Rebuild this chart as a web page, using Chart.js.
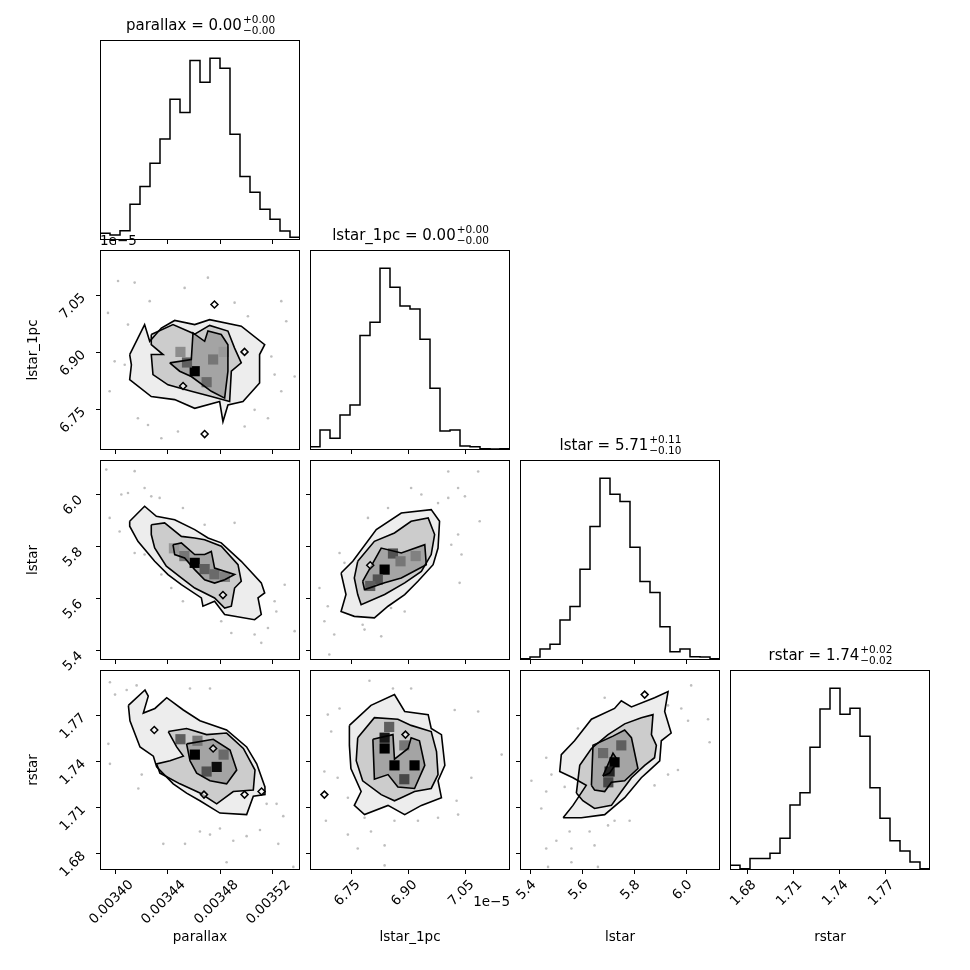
<!DOCTYPE html>
<html><head><meta charset="utf-8">
<script src="https://cdn.jsdelivr.net/npm/chart.js@4.4.1/dist/chart.umd.min.js"></script>
<style>
html,body{margin:0;padding:0;background:#fff;width:970px;height:970px;overflow:hidden}
canvas{position:absolute}
</style></head><body>
<script>
// parameter names
const names = ['parallax','lstar_1pc','lstar','rstar'];
// axis ranges (parallax and lstar_1pc in units of 1e-5)
const rangeParallax = [338.85, 354.14];
const rangeLstar1pc = [6.641, 7.169];
const rangeLstar = [5.36, 6.13];
const rangeRstar = [1.669, 1.799];
// tick values
const ticksParallax = [340, 344, 348, 352];
const ticksLstar1pc = [6.75, 6.90, 7.05];
const ticksLstar = [5.4, 5.6, 5.8, 6.0];
const ticksRstar = [1.68, 1.71, 1.74, 1.77];
// titles of diagonal panels
const titleValues = ['0.00','0.00','5.71','1.74'];
const titlePlus = ['+0.00','+0.00','+0.11','+0.02'];
const titleMinus = ['\u22120.00','\u22120.00','\u22120.10','\u22120.02'];
// 1D histograms (20 bins)
const histParallax = [20,15,28,107,160,230,303,422,382,538,473,545,515,317,190,143,92,62,27,8];
const histLstar1pc = [10,60,35,105,135,343,383,545,488,432,423,332,185,57,60,12,10,4,3,4];
const histLstar = [4,9,33,47,120,160,272,400,545,497,475,338,235,202,100,25,33,10,9,4];
const histRstar = [14,4,34,34,50,95,194,230,366,480,542,464,482,399,245,154,87,57,24,4];

// ---- 2D panels: contours (outer, middle, inner), islands, dense cells [x,y,density], samples
// parallax vs lstar_1pc
const A_outer = [[341.12,6.893],[342.26,6.972],[342.65,6.928],[343.54,6.963],[344.56,6.983],[346.09,6.972],[347.23,6.985],[349.65,6.968],[351.44,6.919],[351.05,6.893],[351.05,6.818],[349.78,6.769],[348.63,6.760],[348.25,6.716],[348.0,6.769],[346.09,6.751],[344.56,6.774],[342.77,6.782],[341.12,6.827],[341.25,6.866]];
const A_middle = [[342.77,6.946],[344.43,6.972],[346.09,6.947],[347.23,6.970],[348.63,6.955],[349.14,6.910],[349.65,6.871],[348.89,6.849],[348.76,6.769],[347.36,6.782],[345.83,6.796],[344.05,6.813],[342.9,6.840],[342.77,6.893],[343.67,6.893],[342.77,6.919]];
const A_inner = [[344.18,6.871],[345.83,6.880],[345.96,6.950],[346.85,6.928],[347.1,6.955],[348.12,6.946],[348.63,6.919],[348.63,6.849],[348.38,6.778],[347.36,6.796],[345.83,6.835],[344.94,6.849]];
const A_islands = [[347.6,7.025],[346.85,6.683],[349.9,6.90],[345.2,6.81]];
const A_cells = [[346.09,6.849,1.0],[345.5,6.872,0.6],[347.5,6.88,0.5],[347.0,6.82,0.55],[345.0,6.90,0.4],[348.3,6.90,0.35]];
const A_pts = [[339.46,7.003],[340.23,7.087],[341.5,7.083],[340.99,6.972],[339.97,6.875],[340.74,6.866],[339.59,6.796],[341.75,6.725],[342.52,6.707],[343.54,6.672],[344.81,6.690],[349.91,6.703],[351.69,6.725],[352.71,6.796],[353.73,6.835],[353.09,6.981],[352.71,7.034],[349.14,7.030],[345.32,7.069],[347.1,7.096],[342.65,7.034],[350.16,6.994],[351.95,6.888],[350.67,6.747],[352.2,6.840]];
// parallax vs lstar
const B_outer = [[341.12,5.894],[342.26,5.952],[343.16,5.913],[344.56,5.900],[346.09,5.862],[347.11,5.830],[348.12,5.811],[349.65,5.740],[351.18,5.657],[351.44,5.618],[350.93,5.599],[351.18,5.535],[350.67,5.515],[348.38,5.535],[347.61,5.586],[346.72,5.567],[346.6,5.599],[345.07,5.650],[344.05,5.689],[343.03,5.740],[341.75,5.817],[341.12,5.875]];
const B_middle = [[342.77,5.881],[343.79,5.888],[345.07,5.836],[346.09,5.830],[346.85,5.823],[348.12,5.798],[349.4,5.727],[349.65,5.663],[349.14,5.637],[348.89,5.567],[348.38,5.560],[347.61,5.599],[346.09,5.637],[345.07,5.676],[343.92,5.721],[343.03,5.791],[342.77,5.843]];
const B_inner = [[344.43,5.804],[345.07,5.811],[346.09,5.766],[346.85,5.766],[347.36,5.778],[347.61,5.714],[349.14,5.689],[348.38,5.669],[347.61,5.656],[346.85,5.669],[346.09,5.708],[345.32,5.753],[344.56,5.766]];
const B_islands = [[348.25,5.61]];
const B_cells = [[346.09,5.734,1.0],[346.85,5.71,0.6],[347.6,5.69,0.55],[345.3,5.76,0.5],[348.4,5.68,0.45],[344.5,5.79,0.35]];
const B_pts = [[339.33,6.093],[341.5,6.087],[339.59,5.907],[340.48,5.997],[340.99,6.003],[342.26,6.022],[342.77,5.990],[343.41,5.984],[345.19,5.945],[340.35,5.855],[341.5,5.772],[342.26,5.766],[343.54,5.689],[344.30,5.637],[345.19,5.586],[346.85,5.881],[349.14,5.888],[352.2,5.586],[352.97,5.650],[352.33,5.547],[351.69,5.483],[350.67,5.458],[353.73,5.471],[348.89,5.464],[348.12,5.509],[351.18,5.426]];
// parallax vs rstar
const C_outer = [[341.02,1.776],[342.29,1.786],[342.54,1.782],[342.16,1.771],[343.05,1.774],[343.95,1.781],[345.22,1.773],[346.49,1.766],[348.53,1.760],[350.06,1.749],[350.83,1.738],[351.46,1.723],[351.46,1.718],[350.57,1.717],[350.06,1.705],[348.02,1.706],[346.49,1.714],[345.47,1.719],[344.45,1.725],[343.18,1.736],[342.93,1.743],[341.91,1.749],[341.14,1.766]];
const C_middle = [[344.07,1.759],[345.47,1.761],[347.0,1.757],[348.53,1.758],[349.81,1.748],[350.70,1.734],[350.57,1.721],[349.04,1.720],[347.77,1.712],[346.49,1.719],[344.96,1.725],[343.43,1.732],[343.18,1.738],[344.2,1.740],[345.22,1.743],[344.71,1.749]];
const C_inner = [[345.47,1.751],[347.51,1.754],[348.79,1.747],[349.3,1.734],[348.53,1.725],[347.26,1.727],[346.24,1.732],[345.73,1.740]];
const C_islands = [[343.0,1.760],[346.8,1.718],[349.9,1.718],[351.2,1.720],[347.5,1.748]];
const C_cells = [[346.1,1.744,1.0],[347.77,1.736,0.95],[347.0,1.733,0.65],[348.3,1.744,0.55],[345.0,1.754,0.6],[346.3,1.753,0.5]];
const C_pts = [[339.61,1.791],[340.0,1.783],[340.89,1.786],[341.65,1.789],[339.49,1.751],[339.61,1.738],[341.78,1.722],[342.04,1.731],[343.69,1.686],[345.35,1.686],[346.49,1.694],[347.26,1.692],[348.02,1.696],[349.04,1.688],[350.06,1.691],[351.08,1.695],[351.59,1.712],[352.35,1.712],[352.86,1.704],[352.48,1.686],[353.63,1.671],[348.53,1.674],[345.73,1.787],[347.26,1.787]];
// lstar_1pc vs lstar
const D_outer = [[6.723,5.695],[6.754,5.740],[6.816,5.862],[6.882,5.926],[6.961,5.939],[6.983,5.894],[6.979,5.791],[6.966,5.727],[6.926,5.663],[6.891,5.612],[6.847,5.567],[6.811,5.522],[6.758,5.528],[6.723,5.547],[6.736,5.612]];
const D_middle = [[6.767,5.740],[6.811,5.817],[6.864,5.849],[6.908,5.894],[6.953,5.907],[6.970,5.843],[6.961,5.766],[6.935,5.701],[6.891,5.657],[6.838,5.612],[6.776,5.573],[6.767,5.612],[6.758,5.676]];
const D_inner = [[6.780,5.663],[6.829,5.791],[6.882,5.772],[6.944,5.804],[6.948,5.727],[6.882,5.676],[6.838,5.657],[6.785,5.631]];
const D_islands = [[6.80,5.725]];
const D_cells = [[6.838,5.708,1.0],[6.82,5.67,0.65],[6.86,5.77,0.65],[6.88,5.74,0.5],[6.92,5.76,0.45],[6.80,5.645,0.6]];
const D_pts = [[6.666,5.637],[6.688,5.567],[6.679,5.509],[6.705,5.458],[6.719,5.772],[6.732,5.734],[6.692,5.381],[6.780,5.496],[6.785,5.477],[6.829,5.451],[6.855,5.560],[6.891,5.547],[6.908,6.022],[6.935,5.997],[6.979,5.964],[7.006,5.984],[7.032,6.022],[7.050,5.990],[7.006,6.086],[7.085,6.086],[7.089,5.894],[7.032,5.843],[7.014,5.804],[7.036,5.657],[7.041,5.766],[6.847,5.945],[6.794,5.907]];
// lstar_1pc vs rstar
const E_outer = [[6.745,1.763],[6.802,1.776],[6.864,1.783],[6.891,1.772],[6.953,1.770],[6.961,1.761],[6.988,1.757],[6.997,1.737],[6.979,1.727],[6.988,1.716],[6.935,1.711],[6.891,1.705],[6.847,1.711],[6.785,1.705],[6.758,1.711],[6.776,1.720],[6.749,1.735],[6.745,1.750]];
const E_middle = [[6.767,1.755],[6.811,1.768],[6.873,1.767],[6.908,1.763],[6.961,1.759],[6.975,1.746],[6.979,1.731],[6.961,1.722],[6.917,1.720],[6.882,1.716],[6.864,1.714],[6.829,1.718],[6.780,1.727],[6.763,1.740]];
const E_inner = [[6.807,1.754],[6.860,1.757],[6.864,1.741],[6.900,1.748],[6.908,1.755],[6.930,1.753],[6.944,1.737],[6.917,1.722],[6.873,1.723],[6.847,1.731],[6.811,1.728]];
const E_islands = [[6.679,1.718],[6.893,1.757]];
const E_cells = [[6.838,1.748,1.0],[6.864,1.737,1.0],[6.917,1.737,1.0],[6.838,1.755,0.9],[6.85,1.762,0.6],[6.89,1.728,0.7],[6.89,1.75,0.5]];
const E_pts = [[6.688,1.770],[6.697,1.759],[6.719,1.774],[6.679,1.733],[6.714,1.729],[6.741,1.716],[6.683,1.701],[6.741,1.692],[6.767,1.683],[6.802,1.694],[6.838,1.685],[6.864,1.701],[6.926,1.701],[6.979,1.703],[7.032,1.705],[7.028,1.714],[7.067,1.729],[7.085,1.772],[7.023,1.773],[6.908,1.787],[6.860,1.787],[6.798,1.792],[7.147,1.744],[6.838,1.672],[6.785,1.703]];
// lstar vs rstar
const F_outer = [[5.526,1.703],[5.564,1.711],[5.615,1.724],[5.564,1.729],[5.513,1.733],[5.519,1.744],[5.570,1.753],[5.635,1.767],[5.724,1.774],[5.75,1.779],[5.789,1.775],[5.878,1.781],[5.93,1.785],[5.917,1.772],[5.942,1.758],[5.904,1.753],[5.898,1.740],[5.853,1.733],[5.827,1.729],[5.763,1.716],[5.686,1.705],[5.596,1.703]];
const F_middle = [[5.577,1.719],[5.590,1.737],[5.635,1.748],[5.699,1.757],[5.763,1.764],[5.827,1.768],[5.872,1.770],[5.866,1.757],[5.885,1.750],[5.878,1.742],[5.840,1.737],[5.789,1.729],[5.75,1.720],[5.712,1.711],[5.647,1.709],[5.602,1.714]];
const F_inner = [[5.635,1.724],[5.641,1.750],[5.718,1.756],[5.763,1.760],[5.789,1.755],[5.814,1.735],[5.763,1.727],[5.712,1.726],[5.686,1.720],[5.647,1.721]];
const F_core = [[5.679,1.730],[5.718,1.745],[5.737,1.740],[5.705,1.732]];
const F_islands = [[5.84,1.783]];
const F_cells = [[5.724,1.739,1.0],[5.705,1.733,0.85],[5.75,1.750,0.6],[5.70,1.726,0.7],[5.68,1.745,0.55]];
const F_pts = [[5.404,1.727],[5.461,1.742],[5.481,1.731],[5.461,1.720],[5.532,1.723],[5.442,1.709],[5.461,1.683],[5.500,1.688],[5.551,1.694],[5.558,1.683],[5.628,1.694],[5.647,1.685],[5.699,1.698],[5.724,1.701],[5.782,1.701],[5.558,1.674],[5.468,1.671],[5.660,1.671],[5.930,1.776],[5.981,1.774],[6.007,1.766],[6.019,1.789],[6.084,1.767],[6.090,1.752],[5.968,1.734],[5.930,1.731],[5.878,1.724],[5.583,1.761],[5.686,1.781]];

// ---------------- build -----------------
const ranges = [rangeParallax, rangeLstar1pc, rangeLstar, rangeRstar];
const ticks = [ticksParallax, ticksLstar1pc, ticksLstar, ticksRstar];
const hists = [histParallax, histLstar1pc, histLstar, histRstar];
const fmt = [v => (v*1e-5).toFixed(5), v => v.toFixed(2), v => v.toFixed(1), v => v.toFixed(2)];
const PANEL = 200, GAP = 10, LEFT0 = 100, TOP0 = 40;
const PADL = 100, PADT = 40, PADR = 10, PADB = 100;
const FONT = '"DejaVu Sans", sans-serif';

const pairs = {
  '0,1': [A_outer, A_middle, A_inner, null, A_islands, A_cells, A_pts],
  '0,2': [B_outer, B_middle, B_inner, null, B_islands, B_cells, B_pts],
  '0,3': [C_outer, C_middle, C_inner, null, C_islands, C_cells, C_pts],
  '1,2': [D_outer, D_middle, D_inner, null, D_islands, D_cells, D_pts],
  '1,3': [E_outer, E_middle, E_inner, null, E_islands, E_cells, E_pts],
  '2,3': [F_outer, F_middle, F_inner, F_core, F_islands, F_cells, F_pts]
};

const toXY = arr => arr.map(p => ({x: p[0], y: p[1]}));
const closed = arr => toXY(arr.concat([arr[0]]));

function decor(col, row) {
  return {
    id: 'decor',
    afterDraw(chart) {
      const ctx = chart.ctx, a = chart.chartArea, sx = chart.scales.x, sy = chart.scales.y;
      ctx.save();
      ctx.strokeStyle = '#000'; ctx.lineWidth = 1;
      ctx.strokeRect(a.left + 0.5, a.top + 0.5, a.right - a.left - 1, a.bottom - a.top - 1);
      ctx.fillStyle = '#000';
      ticks[col].forEach(t => {
        const px = Math.round(sx.getPixelForValue(t)) + 0.5;
        ctx.beginPath(); ctx.moveTo(px, a.bottom); ctx.lineTo(px, a.bottom + 4); ctx.stroke();
        if (row === 3) {
          const s = fmt[col](t);
          ctx.font = '13.5px ' + FONT;
          const w = ctx.measureText(s).width;
          ctx.save();
          ctx.translate(px - 4, a.bottom + 8 + (w + 13) / 2.83);
          ctx.rotate(-Math.PI / 4);
          ctx.textAlign = 'center'; ctx.textBaseline = 'middle';
          ctx.fillText(s, 0, 0);
          ctx.restore();
        }
      });
      if (row !== col) {
        ticks[row].forEach(t => {
          const py = Math.round(sy.getPixelForValue(t)) + 0.5;
          ctx.beginPath(); ctx.moveTo(a.left - 4, py); ctx.lineTo(a.left, py); ctx.stroke();
          if (col === 0) {
            const s = fmt[row](t);
            ctx.font = '13.5px ' + FONT;
            ctx.save();
            ctx.translate(a.left - 27, py + 11);
            ctx.rotate(-Math.PI / 4);
            ctx.textAlign = 'center'; ctx.textBaseline = 'middle';
            ctx.fillText(s, 0, 0);
            ctx.restore();
          }
        });
      }
      ctx.font = '13.5px ' + FONT;
      ctx.textAlign = 'center'; ctx.textBaseline = 'middle';
      if (row === 3) ctx.fillText(names[col], (a.left + a.right) / 2, a.bottom + 67);
      if (col === 0 && row > 0) {
        ctx.save(); ctx.translate(a.left - 67, (a.top + a.bottom) / 2);
        ctx.rotate(-Math.PI / 2); ctx.fillText(names[row], 0, 0); ctx.restore();
      }
      if (col === 0 && row === 1) {
        ctx.textAlign = 'left'; ctx.textBaseline = 'bottom';
        ctx.fillText('1e\u22125', a.left, a.top - 2);
      }
      if (col === 1 && row === 3) {
        ctx.textAlign = 'right'; ctx.textBaseline = 'middle';
        ctx.fillText('1e\u22125', a.right, a.bottom + 32);
      }
      if (row === col) {
        const main = names[col] + ' = ' + titleValues[col];
        ctx.font = '15px ' + FONT;
        const w1 = ctx.measureText(main).width;
        ctx.font = '10.5px ' + FONT;
        const w2 = Math.max(ctx.measureText(titlePlus[col]).width, ctx.measureText(titleMinus[col]).width);
        let x0 = (a.left + a.right) / 2 - (w1 + w2) / 2;
        const base = a.top - 10;
        ctx.textAlign = 'left'; ctx.textBaseline = 'alphabetic';
        ctx.font = '15px ' + FONT; ctx.fillText(main, x0, base);
        ctx.font = '10.5px ' + FONT;
        ctx.fillText(titlePlus[col], x0 + w1 + 1, base - 7);
        ctx.fillText(titleMinus[col], x0 + w1 + 1, base + 4);
      }
      ctx.restore();
    }
  };
}

function makeChart(col, row) {
  const cv = document.createElement('canvas');
  const left = LEFT0 + col * (PANEL + GAP), top = TOP0 + row * (PANEL + GAP);
  const w = PANEL + PADL + PADR, h = PANEL + PADT + PADB;
  cv.style.left = (left - PADL) + 'px'; cv.style.top = (top - PADT) + 'px';
  cv.style.width = w + 'px'; cv.style.height = h + 'px';
  cv.width = w; cv.height = h;
  document.body.appendChild(cv);
  let datasets = [], yr;
  const xr = ranges[col];
  if (row === col) {
    const hv = hists[col];
    const nb = hv.length, bw = (xr[1] - xr[0]) / nb;
    const data = hv.map((v, i) => ({x: xr[0] + i * bw, y: v}));
    data.push({x: xr[1], y: hv[nb - 1]});
    datasets.push({data, showLine: true, stepped: 'before', borderColor: '#000', borderWidth: 1.5, pointRadius: 0, fill: false});
    yr = [0, Math.max(...hv) * 1.1];
  } else {
    yr = ranges[row];
    const [outer, middle, inner, core, islands, cells, pts] = pairs[col + ',' + row];
    datasets.push({data: toXY(pts), pointRadius: 1.3, pointBackgroundColor: 'rgba(110,110,110,0.45)', pointBorderWidth: 0, showLine: false, order: 30});
    const levels = [[outer, 'rgba(0,0,0,0.07)'], [middle, 'rgba(0,0,0,0.14)'], [inner, 'rgba(0,0,0,0.2)']];
    if (core) levels.push([core, 'rgba(0,0,0,0.3)']);
    levels.forEach(([c, col2], k) => {
      datasets.push({data: closed(c), showLine: true, fill: 'shape', backgroundColor: col2, borderWidth: 0, borderColor: 'transparent', pointRadius: 0, tension: 0, order: 20 - k});
    });
    datasets.push({data: cells.map(c => ({x: c[0], y: c[1]})), pointStyle: 'rect', pointRadius: 7.2,
      pointBackgroundColor: cells.map(c => { const g = Math.round(235 * (1 - c[2])); return `rgb(${g},${g},${g})`; }),
      pointBorderWidth: 0, showLine: false, order: 10});
    levels.forEach(([c]) => {
      datasets.push({data: closed(c), showLine: true, fill: false, borderColor: '#000', borderWidth: 1.6, pointRadius: 0, tension: 0, order: 1});
    });
    datasets.push({data: toXY(islands), pointStyle: 'rectRot', pointRadius: 3.5, pointBackgroundColor: 'rgba(255,255,255,0.6)', pointBorderColor: '#000', pointBorderWidth: 1.5, showLine: false, order: 0});
  }
  new Chart(cv, {
    type: 'scatter',
    data: {datasets},
    options: {
      responsive: false, animation: false, devicePixelRatio: 1,
      layout: {padding: {left: PADL, right: PADR, top: PADT, bottom: PADB}},
      plugins: {legend: {display: false}, tooltip: {enabled: false}},
      scales: {
        x: {type: 'linear', min: xr[0], max: xr[1], display: false},
        y: {type: 'linear', min: yr[0], max: yr[1], display: false}
      },
      clip: 0
    },
    plugins: [decor(col, row)]
  });
}
for (let r = 0; r < 4; r++) for (let c = 0; c <= r; c++) makeChart(c, r);
</script>
</body></html>
